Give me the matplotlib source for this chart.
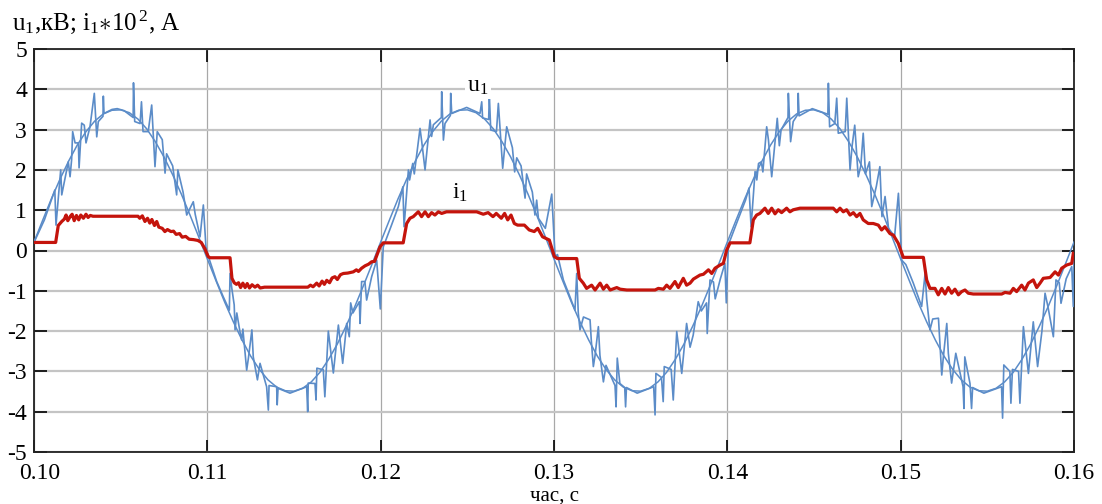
import numpy as np
import matplotlib
matplotlib.use("Agg")
import matplotlib.pyplot as plt
import matplotlib.transforms as mtransforms

# smooth u1 (fundamental), one sample every 0.5 ms from 0.10 to 0.16 s
t_smooth = np.linspace(0.10, 0.16, 121)
u1_smooth = [
    0.21, 0.75, 1.28, 1.77, 2.22, 2.62, 2.95, 3.21, 3.39, 3.48,
    3.49, 3.42, 3.26, 3.02, 2.70, 2.32, 1.88, 1.40, 0.88, 0.34,
    -0.21, -0.75, -1.28, -1.77, -2.22, -2.62, -2.95, -3.21, -3.39, -3.48,
    -3.49, -3.42, -3.26, -3.02, -2.70, -2.32, -1.88, -1.40, -0.88, -0.34,
    0.21, 0.75, 1.28, 1.77, 2.22, 2.62, 2.95, 3.21, 3.39, 3.48,
    3.49, 3.42, 3.26, 3.02, 2.70, 2.32, 1.88, 1.40, 0.88, 0.34,
    -0.21, -0.75, -1.28, -1.77, -2.22, -2.62, -2.95, -3.21, -3.39, -3.48,
    -3.49, -3.42, -3.26, -3.02, -2.70, -2.32, -1.88, -1.40, -0.88, -0.34,
    0.21, 0.75, 1.28, 1.77, 2.22, 2.62, 2.95, 3.21, 3.39, 3.48,
    3.49, 3.42, 3.26, 3.02, 2.70, 2.32, 1.88, 1.40, 0.88, 0.34,
    -0.21, -0.75, -1.28, -1.77, -2.22, -2.62, -2.95, -3.21, -3.39, -3.48,
    -3.49, -3.42, -3.26, -3.02, -2.70, -2.32, -1.88, -1.40, -0.88, -0.34,
    0.21,
]

# u1 with switching spikes (t, kV)
u1_points = [
    # 0.10 - 0.11
    (0.10000, 0.20), (0.10060, 0.76), (0.10120, 1.50), (0.10127, 0.63), (0.10154, 2.00),
    (0.10160, 1.38), (0.10198, 2.20), (0.10208, 1.83), (0.10217, 2.25), (0.10223, 2.95),
    (0.10237, 2.67), (0.10256, 2.67), (0.10260, 2.05), (0.10275, 3.16), (0.10290, 3.11),
    (0.10300, 2.67), (0.10323, 3.07), (0.10348, 3.90), (0.10362, 2.82), (0.10371, 3.20),
    (0.10398, 3.33), (0.10400, 3.83), (0.10404, 3.40), (0.10450, 3.50), (0.10480, 3.52),
    (0.10520, 3.47), (0.10572, 3.30), (0.10574, 4.16), (0.10581, 3.20), (0.10612, 3.15),
    (0.10620, 3.69), (0.10629, 2.95), (0.10659, 2.95), (0.10679, 3.61), (0.10698, 2.08),
    (0.10711, 2.95), (0.10740, 2.75), (0.10756, 1.92), (0.10765, 2.40), (0.10800, 2.10),
    (0.10823, 1.38), (0.10830, 2.00), (0.10860, 1.45), (0.10881, 0.88), (0.10919, 1.21),
    (0.10930, 0.90), (0.10958, 0.34), (0.10977, 1.13), (0.10992, 0.09),
    # 0.11 - 0.12
    (0.11006, -0.15), (0.11054, -0.77), (0.11092, -1.15), (0.11127, -1.48), (0.11131, -0.57),
    (0.11140, -0.90), (0.11155, -1.35), (0.11160, -1.97), (0.11170, -1.55), (0.11188, -2.01),
    (0.11198, -2.22), (0.11205, -1.95), (0.11227, -2.97), (0.11237, -2.67), (0.11257, -1.97),
    (0.11265, -2.64), (0.11289, -3.21), (0.11304, -2.80), (0.11342, -3.38), (0.11352, -3.96),
    (0.11356, -3.35), (0.11400, -3.38), (0.11403, -3.83), (0.11408, -3.42), (0.11477, -3.54),
    (0.11573, -3.38), (0.11579, -4.00), (0.11582, -3.29), (0.11621, -3.30), (0.11627, -3.71),
    (0.11632, -2.92), (0.11669, -2.96), (0.11678, -3.63), (0.11698, -2.00), (0.11727, -3.04),
    (0.11756, -1.85), (0.11781, -2.80), (0.11804, -1.81), (0.11819, -2.14), (0.11827, -1.30),
    (0.11840, -1.55), (0.11877, -1.27), (0.11881, -1.81), (0.11890, -0.77), (0.11909, -0.77),
    (0.11919, -1.23), (0.11948, -0.65), (0.11977, -0.24), (0.11998, -1.45),
    # 0.12 - 0.13
    (0.12015, 0.09), (0.12060, 0.60), (0.12102, 1.09), (0.12128, 1.58), (0.12135, 0.59),
    (0.12160, 2.00), (0.12167, 1.75), (0.12185, 2.16), (0.12194, 1.90), (0.12227, 3.03),
    (0.12237, 2.70), (0.12256, 2.00), (0.12285, 3.24), (0.12294, 2.83), (0.12304, 3.12),
    (0.12350, 3.30), (0.12352, 3.94), (0.12362, 2.74), (0.12371, 3.15), (0.12402, 3.35),
    (0.12404, 3.90), (0.12410, 3.40), (0.12496, 3.55), (0.12573, 3.40), (0.12583, 3.69),
    (0.12588, 3.29), (0.12623, 3.25), (0.12627, 3.86), (0.12635, 2.99), (0.12668, 2.95),
    (0.12679, 3.65), (0.12704, 2.04), (0.12727, 3.07), (0.12760, 2.55), (0.12773, 1.95),
    (0.12785, 2.30), (0.12810, 2.10), (0.12833, 1.30), (0.12842, 1.90), (0.12875, 1.45),
    (0.12890, 0.88), (0.12900, 1.25), (0.12910, 0.80), (0.12950, 0.55), (0.12987, 1.40),
    (0.13006, -0.15),
    # 0.13 - 0.14
    (0.13020, -0.10), (0.13054, -0.73), (0.13092, -1.15), (0.13121, -1.48), (0.13131, -0.57),
    (0.13140, -1.55), (0.13150, -1.97), (0.13170, -1.65), (0.13208, -1.72), (0.13215, -2.22),
    (0.13227, -2.88), (0.13237, -2.60), (0.13256, -1.89), (0.13265, -2.60), (0.13285, -3.26),
    (0.13300, -2.85), (0.13352, -3.35), (0.13358, -3.88), (0.13365, -2.67), (0.13380, -3.30),
    (0.13408, -3.40), (0.13413, -3.88), (0.13418, -3.40), (0.13480, -3.54), (0.13575, -3.38),
    (0.13583, -4.08), (0.13588, -3.05), (0.13620, -3.15), (0.13630, -3.75), (0.13636, -2.88),
    (0.13676, -2.95), (0.13688, -3.71), (0.13708, -2.01), (0.13737, -3.05), (0.13765, -1.81),
    (0.13785, -2.40), (0.13803, -2.10), (0.13832, -1.27), (0.13850, -1.50), (0.13880, -1.30),
    (0.13884, -2.06), (0.13900, -0.73), (0.13920, -0.78), (0.13930, -1.20), (0.13960, -0.70),
    (0.13986, -0.32), (0.13994, -1.30),
    # 0.14 - 0.15
    (0.14006, 0.14), (0.14060, 0.75), (0.14105, 1.25), (0.14125, 1.55), (0.14137, 0.59),
    (0.14160, 1.96), (0.14170, 1.75), (0.14180, 2.16), (0.14196, 2.20), (0.14205, 1.95),
    (0.14227, 3.07), (0.14237, 2.75), (0.14256, 1.83), (0.14288, 3.28), (0.14300, 2.60),
    (0.14310, 2.99), (0.14350, 3.30), (0.14352, 3.90), (0.14365, 2.70), (0.14380, 3.20),
    (0.14407, 3.38), (0.14409, 3.90), (0.14414, 3.34), (0.14490, 3.52), (0.14580, 3.38),
    (0.14583, 4.15), (0.14590, 3.07), (0.14620, 3.15), (0.14631, 3.78), (0.14640, 2.91),
    (0.14680, 2.95), (0.14689, 3.78), (0.14708, 2.00), (0.14720, 2.60), (0.14735, 3.11),
    (0.14755, 1.83), (0.14770, 2.10), (0.14784, 2.91), (0.14797, 1.90), (0.14820, 2.20),
    (0.14833, 1.09), (0.14860, 1.60), (0.14880, 2.08), (0.14892, 0.84), (0.14910, 1.34),
    (0.14930, 0.55), (0.14965, 0.35), (0.14987, 1.42), (0.15006, -0.24),
    # 0.15 - 0.16
    (0.15030, -0.35), (0.15073, -0.81), (0.15121, -1.39), (0.15141, -0.57), (0.15150, -1.20),
    (0.15169, -1.97), (0.15185, -1.70), (0.15218, -1.68), (0.15237, -3.09), (0.15245, -2.70),
    (0.15266, -1.81), (0.15275, -2.55), (0.15294, -3.29), (0.15318, -2.55), (0.15360, -3.38),
    (0.15365, -3.92), (0.15370, -2.64), (0.15400, -3.30), (0.15409, -3.92), (0.15415, -3.40),
    (0.15480, -3.54), (0.15582, -3.38), (0.15588, -4.16), (0.15595, -2.84), (0.15630, -3.00),
    (0.15636, -3.79), (0.15645, -2.95), (0.15680, -3.00), (0.15688, -3.79), (0.15708, -1.89),
    (0.15737, -3.05), (0.15765, -1.77), (0.15790, -2.88), (0.15815, -2.00), (0.15833, -1.06),
    (0.15850, -1.40), (0.15881, -2.14), (0.15896, -0.73), (0.15915, -0.80), (0.15925, -1.31),
    (0.15955, -0.70), (0.15987, -0.40), (0.15996, -1.39), (0.16000, -0.10),
]

# i1 * 10^2 (t, A)
i1_points = [
    # 0.10 - 0.11
    (0.10000, 0.20), (0.10125, 0.20), (0.10140, 0.62), (0.10160, 0.72), (0.10175, 0.78),
    (0.10185, 0.88), (0.10195, 0.74), (0.10210, 0.85), (0.10220, 0.90), (0.10232, 0.74),
    (0.10245, 0.87), (0.10258, 0.76), (0.10270, 0.88), (0.10285, 0.80), (0.10300, 0.90),
    (0.10312, 0.82), (0.10325, 0.87), (0.10340, 0.85), (0.10600, 0.85), (0.10610, 0.80),
    (0.10625, 0.86), (0.10640, 0.72), (0.10655, 0.80), (0.10668, 0.68), (0.10680, 0.77),
    (0.10695, 0.62), (0.10708, 0.72), (0.10720, 0.58), (0.10740, 0.55), (0.10755, 0.47),
    (0.10770, 0.52), (0.10790, 0.47), (0.10805, 0.48), (0.10820, 0.40), (0.10840, 0.42),
    (0.10855, 0.33), (0.10875, 0.35), (0.10895, 0.28), (0.10920, 0.27), (0.10945, 0.25),
    (0.10965, 0.20), (0.10985, 0.05), (0.11005, -0.15), (0.11015, -0.18),
    # 0.11 - 0.12
    (0.11131, -0.18), (0.11142, -0.69), (0.11155, -0.80), (0.11168, -0.84), (0.11180, -0.80),
    (0.11192, -0.92), (0.11205, -0.81), (0.11218, -0.92), (0.11230, -0.82), (0.11243, -0.93),
    (0.11258, -0.85), (0.11275, -0.91), (0.11290, -0.86), (0.11305, -0.93), (0.11330, -0.91),
    (0.11580, -0.91), (0.11595, -0.86), (0.11610, -0.90), (0.11631, -0.81), (0.11645, -0.88),
    (0.11662, -0.76), (0.11675, -0.84), (0.11689, -0.74), (0.11705, -0.80), (0.11720, -0.68),
    (0.11736, -0.65), (0.11750, -0.72), (0.11768, -0.60), (0.11785, -0.57), (0.11810, -0.56),
    (0.11842, -0.53), (0.11860, -0.48), (0.11872, -0.52), (0.11890, -0.44), (0.11910, -0.38),
    (0.11930, -0.34), (0.11948, -0.28), (0.11965, -0.27), (0.11996, 0.09), (0.12015, 0.19),
    # 0.12 - 0.13
    (0.12130, 0.19), (0.12150, 0.67), (0.12169, 0.80), (0.12188, 0.84), (0.12217, 0.96),
    (0.12236, 0.84), (0.12256, 0.96), (0.12275, 0.84), (0.12294, 0.94), (0.12313, 0.88),
    (0.12333, 0.96), (0.12352, 0.92), (0.12380, 0.96), (0.12554, 0.96), (0.12592, 0.90),
    (0.12620, 0.94), (0.12648, 0.84), (0.12667, 0.92), (0.12696, 0.80), (0.12715, 0.92),
    (0.12733, 0.76), (0.12752, 0.88), (0.12771, 0.67), (0.12790, 0.63), (0.12829, 0.63),
    (0.12857, 0.51), (0.12886, 0.47), (0.12906, 0.55), (0.12934, 0.34), (0.12973, 0.26),
    (0.13002, -0.15), (0.13020, -0.20),
    # 0.13 - 0.14
    (0.13131, -0.20), (0.13146, -0.69), (0.13169, -0.81), (0.13188, -0.94), (0.13217, -0.86),
    (0.13237, -0.98), (0.13266, -0.81), (0.13285, -0.96), (0.13304, -0.86), (0.13324, -0.98),
    (0.13362, -0.92), (0.13382, -0.96), (0.13420, -0.98), (0.13583, -0.98), (0.13602, -0.94),
    (0.13631, -0.96), (0.13650, -0.86), (0.13669, -0.94), (0.13698, -0.77), (0.13717, -0.92),
    (0.13746, -0.69), (0.13765, -0.86), (0.13785, -0.81), (0.13804, -0.71), (0.13842, -0.61),
    (0.13862, -0.59), (0.13891, -0.48), (0.13910, -0.57), (0.13929, -0.44), (0.13958, -0.36),
    (0.13977, -0.32), (0.13996, 0.01), (0.14016, 0.19),
    # 0.14 - 0.15
    (0.14130, 0.19), (0.14150, 0.76), (0.14169, 0.88), (0.14188, 0.92), (0.14217, 1.05),
    (0.14236, 0.92), (0.14256, 1.05), (0.14275, 0.91), (0.14294, 1.01), (0.14313, 0.94),
    (0.14342, 1.05), (0.14361, 0.96), (0.14380, 1.01), (0.14419, 1.05), (0.14611, 1.05),
    (0.14631, 0.96), (0.14650, 1.05), (0.14669, 0.96), (0.14688, 1.01), (0.14708, 0.88),
    (0.14727, 0.94), (0.14746, 0.84), (0.14765, 0.92), (0.14784, 0.76), (0.14813, 0.67),
    (0.14842, 0.67), (0.14871, 0.63), (0.14890, 0.51), (0.14909, 0.59), (0.14938, 0.42),
    (0.14958, 0.38), (0.14986, 0.18), (0.15015, -0.17),
    # 0.15 - 0.16
    (0.15131, -0.17), (0.15150, -0.73), (0.15169, -0.94), (0.15198, -0.94), (0.15217, -1.10),
    (0.15237, -0.94), (0.15256, -1.08), (0.15275, -0.92), (0.15294, -1.06), (0.15313, -0.96),
    (0.15333, -1.10), (0.15352, -1.02), (0.15371, -0.98), (0.15390, -1.06), (0.15419, -1.08),
    (0.15583, -1.08), (0.15602, -1.04), (0.15631, -1.06), (0.15650, -0.94), (0.15669, -1.02),
    (0.15698, -0.86), (0.15717, -0.98), (0.15737, -0.81), (0.15765, -0.73), (0.15785, -0.92),
    (0.15804, -0.81), (0.15823, -0.69), (0.15862, -0.67), (0.15891, -0.53), (0.15910, -0.61),
    (0.15929, -0.44), (0.15958, -0.36), (0.15987, -0.32), (0.15996, -0.07),
]

x_ticks = [0.10, 0.11, 0.12, 0.13, 0.14, 0.15, 0.16]
x_labels = ["0.10", "0.11", "0.12", "0.13", "0.14", "0.15", "0.16"]
y_ticks = [-5, -4, -3, -2, -1, 0, 1, 2, 3, 4, 5]

plt.rcParams["font.family"] = ["Liberation Serif", "DejaVu Serif"]
plt.rcParams["mathtext.fontset"] = "custom"
plt.rcParams["mathtext.rm"] = "Liberation Serif"
plt.rcParams["mathtext.it"] = "Liberation Serif"
plt.rcParams["axes.unicode_minus"] = False

blue = "#5b8cc8"
red = "#c4140c"

fig = plt.figure(figsize=(11.02, 5.04), dpi=100)
ax = fig.add_axes([34 / 1102, 1 - 452 / 504, 1040 / 1102, 403 / 504])

u_t, u_v = zip(*u1_points)
i_t, i_v = zip(*i1_points)

ax.plot(t_smooth, u1_smooth, color=blue, lw=1.1, zorder=3)
ax.plot(u_t, u_v, color=blue, lw=1.2, zorder=3)
ax.plot(i_t, i_v, color=red, lw=2.3, zorder=4)

ax.set_xlim(0.10, 0.16)
ax.set_ylim(-5, 5)
ax.set_xticks(x_ticks)
ax.set_xticklabels(x_labels)
ax.set_yticks(y_ticks)

ax.grid(axis="y", color="#c4c4c4", lw=1.6, zorder=0)
ax.grid(axis="x", color="#a8a8a8", lw=0.9, zorder=0)
ax.tick_params(axis="both", direction="in", length=9, width=1.2, color="black",
               top=True, right=True, labelsize=17)
ax.tick_params(axis="x", pad=8)
ax.tick_params(axis="y", pad=5)
# first x label sits a little to the right of its tick in the original
first = ax.get_xticklabels()[0]
first.set_transform(first.get_transform() +
                    mtransforms.ScaledTranslation(6 / 100, 0, fig.dpi_scale_trans))
for sp in ax.spines.values():
    sp.set_linewidth(1.3)
    sp.set_color("#222222")

ax.set_xlabel("час, с", fontsize=15, labelpad=2)

fig.text(12 / 1102, 1 - 22 / 504, r"u$_1$,кВ; i$_1$$\ast$10$^{\,2}$, A", fontsize=18,
         ha="left", va="center")

ax.text(0.12561, 4.08, r"u$_1$", fontsize=17, ha="center", va="center", zorder=5,
        bbox=dict(facecolor="white", edgecolor="none", pad=1.5))
ax.text(0.12458, 1.43, r"i$_1$", fontsize=17, ha="center", va="center", zorder=5)

fig.savefig("out.png", dpi=100)
